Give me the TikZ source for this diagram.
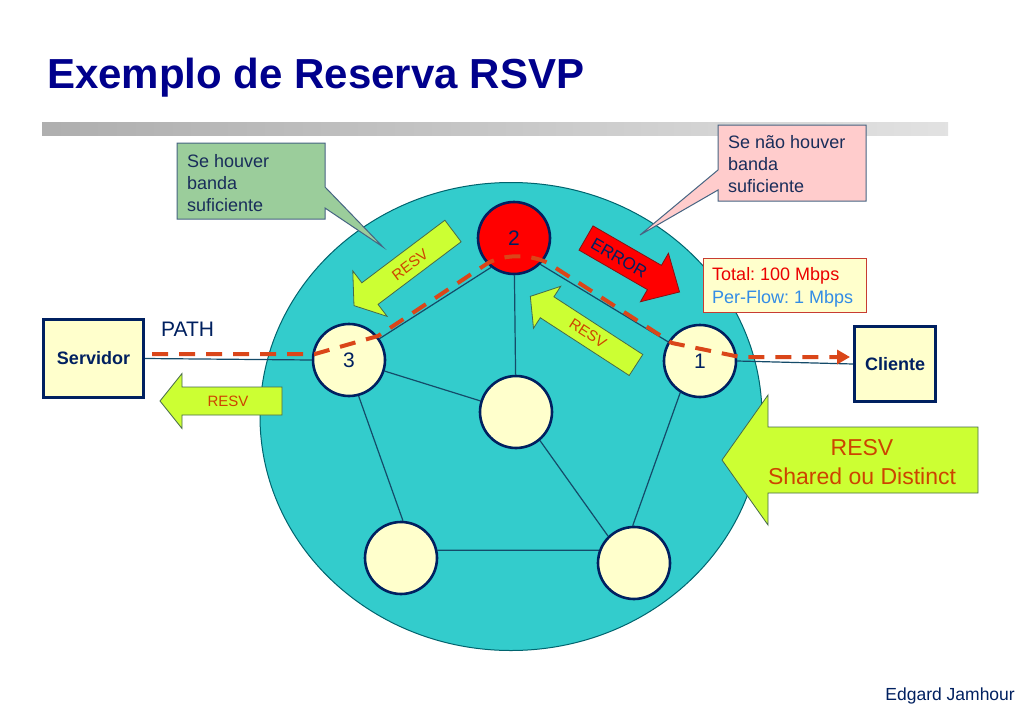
\documentclass[tikz,border=0pt]{standalone}
\usepackage{fontspec}
\setmainfont{Liberation Sans}
\usetikzlibrary{arrows.meta}

\definecolor{navy}{RGB}{0,32,96}
\definecolor{titleblue}{RGB}{0,0,140}
\definecolor{netcyan}{RGB}{51,204,204}
\definecolor{ellipseedge}{RGB}{0,100,110}
\definecolor{nodefill}{RGB}{255,255,204}
\definecolor{limegreen}{RGB}{204,255,51}
\definecolor{arrowedge}{RGB}{70,105,75}
\definecolor{erroredge}{RGB}{130,20,20}
\definecolor{resvtext}{RGB}{204,68,0}
\definecolor{pathred}{RGB}{218,70,25}
\definecolor{edgecol}{RGB}{20,75,105}
\definecolor{greenbox}{RGB}{155,205,155}
\definecolor{pinkbox}{RGB}{255,204,204}
\definecolor{calloutedge}{RGB}{70,100,130}
\definecolor{calltext}{RGB}{25,45,90}
\definecolor{totalred}{RGB}{235,0,0}
\definecolor{flowblue}{RGB}{50,140,230}
\definecolor{totalborder}{RGB}{200,60,50}

\pgfdeclarelayer{bg}
\pgfdeclarelayer{edges}
\pgfsetlayers{bg,edges,main}

\pgfdeclarehorizontalshading{barshade}{100bp}{color(0bp)=(white); color(3bp)=(black!40); color(50bp)=(black!22); color(88bp)=(black!6); color(100bp)=(white)}

\tikzset{
  pics/barrow/.style n args={5}{code={
    \draw[draw=arrowedge, line width=0.8pt, line join=miter, fill=#5]
      (0,-#2/2) -- (#1,-#2/2) -- (#1,-#4/2) -- (#1+#3,0) -- (#1,#4/2) -- (#1,#2/2) -- (0,#2/2) -- cycle;
  }},
  router/.style={circle, draw=navy, line width=2.6pt, fill=nodefill, minimum size=72pt, inner sep=0pt,
    text=navy, font=\fontsize{21}{21}\selectfont},
  hostbox/.style={rectangle, draw=navy, line width=2.6pt, fill=nodefill, inner sep=0pt,
    text=navy, font=\bfseries\fontsize{18}{22}\selectfont},
  netedge/.style={draw=edgecol, line width=1.2pt},
  pathline/.style={draw=pathred, line width=4pt, dash pattern=on 16pt off 11pt,
    -{Triangle[length=13pt,width=14pt]}},
  arrowlabel/.style={text=resvtext, font=\fontsize{15}{15}\selectfont, inner sep=0pt},
  calloutbox/.style={draw=calloutedge, line width=1pt, line join=miter},
  calloutlabel/.style={anchor=north west, align=left, inner sep=0pt, text=calltext,
    font=\fontsize{18}{22}\selectfont},
}

\begin{document}
\frenchspacing
\begin{tikzpicture}[x=1pt, y=-1pt]
\useasboundingbox (0,0) rectangle (1024,709);

% network cloud
\begin{pgfonlayer}{bg}
\fill[white] (0,0) rectangle (1024,709);
\draw[fill=netcyan, draw=ellipseedge, line width=1pt] (511,416.5) ellipse [x radius=251, y radius=234];
\end{pgfonlayer}

% title and bar
\node[anchor=base west, inner sep=0pt, text=titleblue, font=\bfseries\fontsize{42}{45}\selectfont] (title) at (47,88) {Exemplo de Reserva RSVP};
\shade[shading=barshade] (42,122) rectangle (948,135);

% routers
\node[router, fill=red] (n2) at (514,238) {2};
\node[router] (n3) at (349,360) {3};
\node[router] (n1) at (700,361) {1};
\node[router] (nc) at (516,412) {};
\node[router] (nbl) at (401,558) {};
\node[router] (nbr) at (634,563) {};

% hosts
\node[hostbox, minimum width=100pt, minimum height=78pt] (srv) at (93.5,358.5) {Servidor};
\node[hostbox, minimum width=81pt, minimum height=75pt] (cli) at (895,364) {Cliente};

% links
\begin{pgfonlayer}{edges}
\draw[netedge] (n2.-128) -- (n3.35);
\draw[netedge] (n2.-45) -- (n1.149);
\draw[netedge] (n2) -- (nc);
\draw[netedge] (n3) -- (nc);
\draw[netedge] (n3.-75) -- (nbl.87);
\draw[netedge] (nbl.12) -- (nbr.160);
\draw[netedge] (nc.-50) -- (nbr.134);
\draw[netedge] (n1.-122) -- (nbr.92);
\draw[netedge] (srv.east) -- (n3.west);
\draw[netedge] (n1.east) -- (cli.west);
\end{pgfonlayer}

% block arrows
\pic[rotate=217] at (453,231) {barrow={104}{27}{20}{57}{limegreen}};
\pic[rotate=147] at (636,365) {barrow={106}{25}{20}{50}{limegreen}};
\pic[rotate=180] at (282,401) {barrow={100}{28}{22}{55}{limegreen}};
\pic[rotate=180] at (978,460) {barrow={210}{66}{46}{130}{limegreen}};
\pic[rotate=-30] at (586,238) {barrow={79}{28}{29}{56}{red, draw=erroredge}};

\node[arrowlabel, rotate=37] (resv1) at (410,265) {RESV};
\node[arrowlabel, rotate=-33] (resv2) at (588,333) {RESV};
\node[arrowlabel] (resv3) at (228,401) {RESV};
\node[arrowlabel, text=navy, font=\fontsize{17}{17}\selectfont, rotate=-30] (err) at (619,258) {ERROR};
\node[arrowlabel, align=center, font=\fontsize{23}{29}\selectfont] (resvbig) at (862,462) {RESV\\Shared ou Distinct};

% PATH flow
\coordinate (pstart) at (152,354);
\coordinate (pend) at (850,357);
\draw[pathline] (pstart) -- (315,354) -- (378,336) -- (488,263)
  .. controls (505,254) and (530,254) .. (548,263) -- (672,343) -- (740,357) -- (pend);
\node[anchor=base west, inner sep=0pt, text=navy, font=\fontsize{21}{21}\selectfont] (pathlbl) at (161,336) {PATH};

% callouts
\draw[calloutbox, fill=greenbox] (177,143) -- (325,143) -- (325,187) -- (383,247) -- (325,208) -- (325,219) -- (177,219) -- cycle;
\node[calloutlabel] (gtext) at (187,154) {Se houver\\banda\\suficiente};
\draw[calloutbox, fill=pinkbox] (718,125) -- (866,125) -- (866,201) -- (718,201) -- (718,190) -- (640,235) -- (718,170) -- cycle;
\node[calloutlabel] (ptext) at (728,135) {Se não houver\\banda\\suficiente};

% capacity box
\draw[draw=totalborder, fill=nodefill, line width=1pt] (703,258) rectangle (866,312);
\node[anchor=north west, align=left, inner sep=0pt, font=\fontsize{18}{23}\selectfont] (cap) at (712,267)
  {\textcolor{totalred}{Total: 100 Mbps}\\\textcolor{flowblue}{Per-Flow: 1 Mbps}};

% author
\node[anchor=base east, inner sep=0pt, text=navy, font=\fontsize{17.5}{17.5}\selectfont] (author) at (1015,700) {Edgard Jamhour};
\end{tikzpicture}
\end{document}
